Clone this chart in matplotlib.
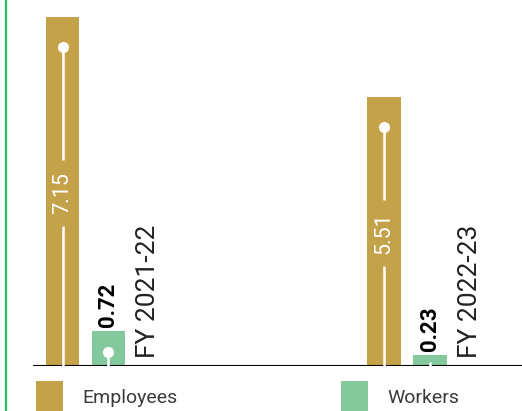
import matplotlib.pyplot as plt
from matplotlib.lines import Line2D

plt.rcParams['font.family'] = ['Roboto', 'DejaVu Sans']

years = ["FY 2021-22", "FY 2022-23"]
employees = [7.15, 5.51]
workers = [0.72, 0.23]

gold = "#C4A24A"
green = "#84C99C"

W, H = 522, 411
PX = 48.8  # pixels per unit on the value axis
fig = plt.figure(figsize=(W / 100, H / 100), dpi=100)

# axes box in pixels: left edge at the baseline start, bottom on the baseline
left, base = 33, 366
ax = fig.add_axes([left / W, (H - base) / H, (W - left) / W, base / H])
ax.set_ylim(0, base / PX)
ax.set_xlim(-0.0918, -0.0918 + (W - left) / 321.5)
ax.axis("off")

gap = 0.143
width = 0.104
x_emp = [i for i in range(len(years))]
x_wrk = [i + gap for i in range(len(years))]

ax.bar(x_emp, employees, width=width, color=gold, label="Employees")
ax.bar(x_wrk, workers, width=width, color=green, label="Workers")
ax.axhline(0, color="black", lw=1.5)

# white stems with a dot, value written in the middle of the gold bars
half = 33 / PX
for x, v in zip(x_emp, employees):
    top = v - 0.61
    mid = top / 2 + 0.28
    ax.plot([x, x], [0, mid - half], color="white", lw=1.8, solid_capstyle="butt")
    ax.plot([x, x], [mid + half, top], color="white", lw=1.8, solid_capstyle="butt")
    ax.plot(x, top, "o", color="white", ms=7)
    ax.text(x, mid, f"{v:.2f}", rotation=90, ha="center", va="center",
            color="white", fontsize=15.5)

for x, v in zip(x_wrk, workers):
    top = v * 0.4
    ax.plot([x, x], [0, top], color="white", lw=1.8, solid_capstyle="butt")
    if v > 0.5:
        ax.plot(x, top, "o", color="white", ms=7)
    ax.annotate(f"{v:.2f}", (x, v), xytext=(0, 3), textcoords="offset points",
                rotation=90, ha="center", va="bottom", fontsize=16,
                fontweight="bold", color="black")

for i, yr in enumerate(years):
    ax.annotate(yr, (x_emp[i] + 0.266, 0), xytext=(0, 6), textcoords="offset points",
                rotation=90, ha="center", va="bottom", fontsize=19, color="#222222")

# green rule down the left side
fig.add_artist(Line2D([6 / W, 6 / W], [0, 1], color="#22C55E", lw=1.6))

fig.legend(loc="upper left", bbox_to_anchor=(36 / W, 1 - 381 / H), ncol=2,
           frameon=False, fontsize=14, handlelength=1.4, handleheight=2.1,
           handletextpad=1.0, columnspacing=8.4, borderpad=0, borderaxespad=0,
           labelcolor="#3a3a3a")

fig.savefig("out.png", dpi=100)
